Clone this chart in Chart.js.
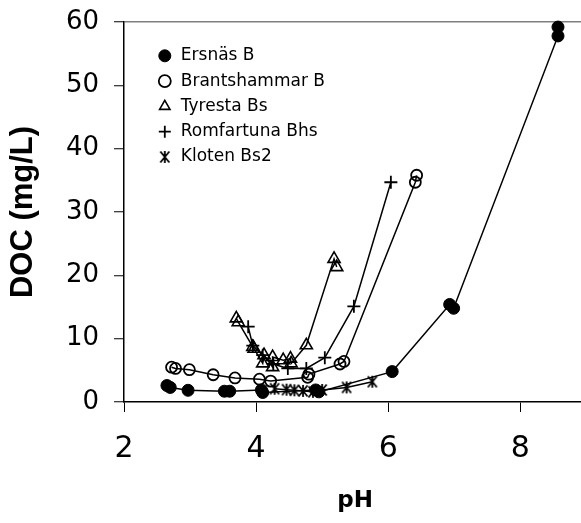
<!DOCTYPE html>
<html>
<head>
<meta charset="utf-8">
<script src="https://cdn.jsdelivr.net/npm/chart.js@4.4.1/dist/chart.umd.min.js"></script>
<style>
  html, body { margin: 0; padding: 0; background: #fff; overflow: hidden; }
  /* wider than the window on purpose: the plot runs on past the right edge */
  #wrap { width: 595px; height: 523px; }
</style>
</head>
<body>
<div id="wrap"><canvas id="chart"></canvas></div>
<script>
// series names (legend order)
const seriesNames = ["Ersnäs B", "Brantshammar B", "Tyresta Bs", "Romfartuna Bhs", "Kloten Bs2"];

// values: pH and DOC (mg/L)
const ersnasPH  = [2.65, 2.7, 2.97, 3.52, 3.6, 4.08, 4.1, 4.9, 4.95, 6.06, 6.93, 6.99, 8.57, 8.57];
const ersnasDOC = [2.6, 2.3, 1.85, 1.7, 1.7, 1.9, 1.5, 1.9, 1.6, 4.8, 15.4, 14.8, 57.8, 59.2];

const brantsPH  = [2.72, 2.78, 2.99, 3.35, 3.68, 4.05, 4.22, 4.78, 4.8, 5.27, 5.33, 6.41, 6.43];
const brantsDOC = [5.5, 5.3, 5.1, 4.3, 3.8, 3.6, 3.3, 3.9, 4.4, 6.0, 6.4, 34.7, 35.8];

const tyrestaPH  = [3.7, 3.73, 3.95, 3.97, 4.1, 4.12, 4.25, 4.25, 4.41, 4.52, 4.53, 4.76, 5.18, 5.22];
const tyrestaDOC = [13.2, 12.6, 8.7, 8.4, 6.1, 7.4, 5.5, 7.1, 6.6, 6.85, 6.1, 8.95, 22.6, 21.3];

const romfPH  = [3.88, 3.95, 4.1, 4.26, 4.48, 4.76, 5.04, 5.48, 6.04];
const romfDOC = [11.9, 8.9, 7.4, 6.0, 5.3, 5.3, 7.0, 15.1, 34.7];

const klotenPH  = [4.28, 4.46, 4.58, 4.71, 4.86, 5.0, 5.37, 5.76];
const klotenDOC = [2.1, 1.95, 1.85, 1.75, 1.6, 1.9, 2.3, 3.2];

const xTicks = [2, 4, 6, 8];
const yTicks = [0, 10, 20, 30, 40, 50, 60];

function toPoints(xs, ys) {
  return xs.map((x, i) => ({ x: x, y: ys[i] }));
}

// asterisk-like marker: X with a vertical bar
function makeStar(size) {
  const c = document.createElement("canvas");
  c.width = size;
  c.height = size;
  const g = c.getContext("2d");
  const m = size / 2;
  g.strokeStyle = "#000";
  g.lineWidth = 1.8;
  g.beginPath();
  g.moveTo(m - 4.5, m - 5.5); g.lineTo(m + 4.5, m + 5.5);
  g.moveTo(m + 4.5, m - 5.5); g.lineTo(m - 4.5, m + 5.5);
  g.moveTo(m, m - 6); g.lineTo(m, m + 6);
  g.stroke();
  return c;
}
const starImg = makeStar(14);

const FONT = "DejaVu Sans";

// put the in-plot legend where it sits in the figure
const legendShift = {
  id: "legendShift",
  afterLayout(chart) {
    chart.legend.left = chart.chartArea.left + 25;
    chart.legend.top = chart.chartArea.top + 17;
  },
};

// drop the extra room Chart.js keeps for half tick labels
function noScalePadding(s) {
  s.paddingTop = 0;
  s.paddingBottom = 0;
  s.paddingLeft = 0;
  s.paddingRight = 0;
}

function series(label, xs, ys, style) {
  return Object.assign({
    label: label,
    data: toPoints(xs, ys),
    showLine: true,
    borderColor: "#000",
    borderWidth: 1.5,
    pointBorderColor: "#000",
    tension: 0,
    clip: false,
  }, style);
}

const ctx = document.getElementById("chart").getContext("2d");
new Chart(ctx, {
  type: "scatter",
  data: {
    datasets: [
      series(seriesNames[0], ersnasPH, ersnasDOC, { pointStyle: "circle", pointRadius: 6, pointBorderWidth: 1, pointBackgroundColor: "#000" }),
      series(seriesNames[1], brantsPH, brantsDOC, { pointStyle: "circle", pointRadius: 5.5, pointBorderWidth: 1.8, pointBackgroundColor: "rgba(0,0,0,0)" }),
      series(seriesNames[2], tyrestaPH, tyrestaDOC, { pointStyle: "triangle", pointRadius: 7, pointBorderWidth: 1.6, pointBackgroundColor: "rgba(0,0,0,0)" }),
      series(seriesNames[3], romfPH, romfDOC, { pointStyle: "cross", pointRadius: 6.5, pointBorderWidth: 1.8, pointBackgroundColor: "rgba(0,0,0,0)" }),
      series(seriesNames[4], klotenPH, klotenDOC, { pointStyle: starImg, pointRadius: 6, pointBorderWidth: 1.8, pointBackgroundColor: "rgba(0,0,0,0)" }),
    ],
  },
  options: {
    responsive: true,
    maintainAspectRatio: false,
    animation: false,
    events: [],
    layout: { padding: { top: 22, right: 0, bottom: 0, left: 0 } },
    plugins: {
      legend: {
        position: "chartArea",
        align: "start",
        labels: {
          usePointStyle: true,
          boxWidth: 15,
          boxHeight: 8.5,
          padding: 8.3,
          color: "#000",
          font: { family: FONT, size: 17 },
        },
      },
      tooltip: { enabled: false },
    },
    scales: {
      x: {
        type: "linear",
        min: 2,
        max: 9,
        afterBuildTicks: (s) => { s.ticks = xTicks.map((v) => ({ value: v })); },
        afterFit: (s) => { s.height = 121; noScalePadding(s); },
        ticks: { color: "#000", padding: 19, font: { family: FONT, size: 30 } },
        grid: { drawOnChartArea: false, tickLength: 10, color: "#000", tickWidth: 1 },
        border: { color: "#000", width: 1.5 },
        title: {
          display: true,
          text: "pH",
          color: "#000",
          font: { family: FONT, size: 23, weight: "bold" },
          padding: { top: 0, bottom: 8 },
        },
      },
      y: {
        type: "linear",
        min: 0,
        max: 60,
        afterBuildTicks: (s) => { s.ticks = yTicks.map((v) => ({ value: v })); },
        afterFit: (s) => { s.width = 124; noScalePadding(s); },
        ticks: { color: "#000", padding: 15, font: { family: FONT, size: 26 } },
        grid: {
          drawOnChartArea: true,
          tickLength: 10,
          lineWidth: 1.5,
          tickWidth: 1,
          tickColor: "#000",
          color: (c) => (c.tick && c.tick.value === 60 ? "#808080" : "rgba(0,0,0,0)"),
        },
        border: { color: "#000", width: 1.5 },
        title: {
          display: true,
          text: "DOC (mg/L)",
          color: "#000",
          font: { family: "Liberation Sans", size: 31, weight: "bold" },
          padding: { top: 5, bottom: 0 },
        },
      },
    },
  },
  plugins: [legendShift],
});
</script>
</body>
</html>
